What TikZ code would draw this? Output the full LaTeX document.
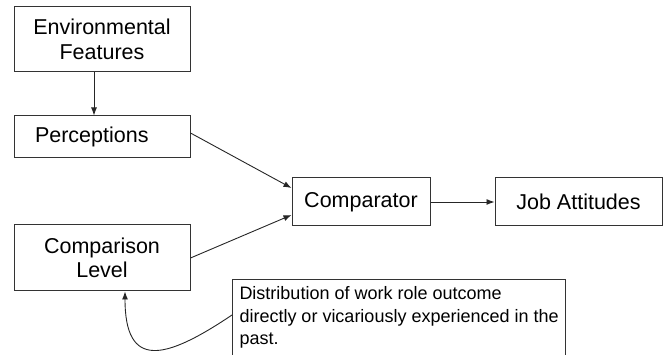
\documentclass[tikz,border=0pt]{standalone}
\usepackage{fontspec}
\setmainfont{Liberation Sans}
\usetikzlibrary{arrows.meta}

\begin{document}
\begin{tikzpicture}[x=1pt,y=-1pt,
    box/.style={draw=black!80,line width=1pt,minimum width=176pt,inner sep=0pt,
        font=\fontsize{21.5}{24.5}\selectfont,align=center},
    link/.style={->,>={Latex[length=8pt,width=6pt]},line width=0.9pt,black!85}]
        \clip (0,0) rectangle (667,355);
        \coordinate (E) at (102,39.5);
        \coordinate (P) at (102,137);
        \coordinate (L) at (102,258);
        \coordinate (C) at (361,202);
        \coordinate (J) at (578.5,202);
        \coordinate (D) at (232,279);

        \node[box,minimum height=65pt] (env) at (E) {Environmental\\Features};
        \node[box,minimum height=42pt,text width=134pt,align=left] (perc) at (P) {Perceptions};
        \node[box,minimum height=66pt] (cmpl) at (L) {Comparison\\Level};
        \node[box,minimum width=138pt,minimum height=48pt] (comp) at (C) {Comparator};
        \node[box,minimum width=167pt,minimum height=48pt] (job) at (J) {Job Attitudes};
        \node[box,anchor=north west,minimum width=331pt,inner sep=7pt,
            align=left,text depth=65pt,font=\fontsize{18}{22.5}\selectfont] (dist) at (D)
            {Distribution of work role outcome\\directly or vicariously experienced in the\\past.};

        \draw[link] ([xshift=-8]env.south)--([xshift=-8]perc.north);
        \draw[link] ([yshift=4]perc.east)--([yshift=14]comp.west);
        \draw[link] (cmpl.east)--([yshift=-13]comp.west);
        \draw[link] (comp.east)--(job.west);
        \draw[link] ([yshift=-36]dist.north west) .. controls (165,360) and (125,370) .. ([xshift=23]cmpl.south);

    \end{tikzpicture}
\end{document}
